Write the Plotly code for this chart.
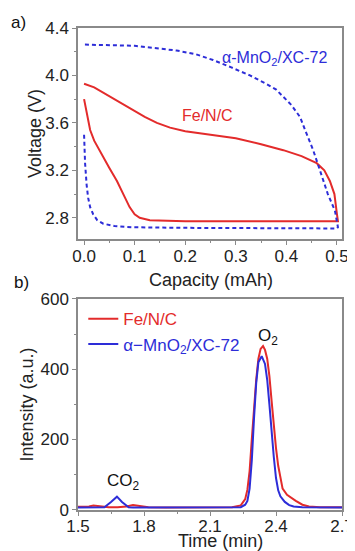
import plotly.graph_objects as go

# ---- Panel a: voltage vs capacity ----
fe_cap = [0.0, 0.005, 0.012, 0.02, 0.03, 0.05, 0.065, 0.08, 0.09, 0.10, 0.11, 0.13, 0.20, 0.30, 0.40, 0.50,
          0.502, 0.50, 0.495, 0.486, 0.475, 0.46, 0.43, 0.394, 0.35, 0.30, 0.25, 0.20, 0.17, 0.144, 0.12, 0.10, 0.08, 0.065, 0.04, 0.02, 0.0]
fe_volt = [3.80, 3.68, 3.54, 3.45, 3.37, 3.22, 3.11, 2.98, 2.89, 2.83, 2.80, 2.78, 2.77, 2.77, 2.77, 2.77,
           2.77, 2.83, 3.00, 3.11, 3.20, 3.26, 3.32, 3.37, 3.42, 3.47, 3.50, 3.53, 3.56, 3.60, 3.65, 3.70, 3.75, 3.79, 3.85, 3.90, 3.93]

mn_cap = [0.0, 0.002, 0.005, 0.008, 0.012, 0.018, 0.026, 0.038, 0.06, 0.097, 0.20, 0.30, 0.40, 0.50,
          0.502, 0.496, 0.482, 0.466, 0.453, 0.437, 0.427, 0.41, 0.38, 0.36, 0.328, 0.29, 0.255, 0.22, 0.183, 0.10, 0.0]
mn_volt = [3.50, 3.26, 3.08, 2.97, 2.89, 2.83, 2.78, 2.75, 2.73, 2.72, 2.715, 2.712, 2.71, 2.71,
           2.72, 2.86, 3.00, 3.20, 3.37, 3.54, 3.65, 3.75, 3.88, 3.93, 4.00, 4.07, 4.13, 4.18, 4.21, 4.25, 4.26]

# ---- Panel b: intensity vs time ----
fe_time = [1.50, 1.55, 1.57, 1.59, 1.61, 1.64, 1.68, 1.72, 1.75, 1.78, 1.82, 1.90, 2.00, 2.10, 2.20, 2.24,
           2.26, 2.27, 2.28, 2.29, 2.30, 2.31, 2.32, 2.33, 2.341, 2.35, 2.36, 2.37, 2.38, 2.39, 2.40, 2.41, 2.42,
           2.43, 2.45, 2.47, 2.49, 2.52, 2.55, 2.60, 2.70]
fe_int = [8, 9, 12, 11, 8, 7, 7, 9, 13, 10, 7, 6, 6, 6, 7, 12,
          30, 57, 110, 200, 290, 370, 430, 458, 466, 455, 430, 380, 310, 240, 175, 125, 88,
          60, 42, 33, 25, 14, 9, 7, 7]

mn_time = [1.50, 1.55, 1.60, 1.62, 1.65, 1.677, 1.70, 1.73, 1.75, 1.80, 1.90, 2.00, 2.10, 2.20, 2.24, 2.26,
           2.27, 2.28, 2.29, 2.30, 2.31, 2.32, 2.335, 2.35, 2.36, 2.37, 2.38, 2.39, 2.40, 2.41, 2.42, 2.44, 2.46,
           2.48, 2.52, 2.60, 2.70]
mn_int = [6, 6, 7, 7, 22, 37, 22, 7, 6, 6, 5, 5, 6, 6, 7, 14,
          25, 60, 140, 260, 360, 420, 437, 415, 370, 300, 220, 150, 90, 55, 38, 22, 13,
          9, 7, 6, 6]

RED = "#e32b2b"
BLUE = "#2d2dd8"
AXC = "#8a8a8a"
TXT = "#222"
FONT = "Liberation Sans, Arial, sans-serif"

fig = go.Figure()
fig.add_trace(go.Scatter(x=fe_cap, y=fe_volt, mode="lines", line=dict(color=RED, width=2),
                         showlegend=False, xaxis="x", yaxis="y"))
fig.add_trace(go.Scatter(x=mn_cap, y=mn_volt, mode="lines", line=dict(color=BLUE, width=2, dash="4px,3px"),
                         showlegend=False, xaxis="x", yaxis="y"))
fig.add_trace(go.Scatter(x=fe_time, y=fe_int, mode="lines", line=dict(color=RED, width=2),
                         name='<span style="color:%s">Fe/N/C</span>' % RED, xaxis="x2", yaxis="y2"))
fig.add_trace(go.Scatter(x=mn_time, y=mn_int, mode="lines", line=dict(color=BLUE, width=2),
                         name='<span style="color:%s">α−MnO<sub>2</sub>/XC-72</span>' % BLUE, xaxis="x2", yaxis="y2"))

axis_common = dict(showline=True, linecolor=AXC, linewidth=1.5, mirror=True, ticks="outside",
                   ticklen=4, tickcolor=AXC, tickwidth=1.2, showgrid=False, zeroline=False,
                   automargin=False,
                   tickfont=dict(size=17, color=TXT, family=FONT))

def title_ann(text, x, y, angle=0):
    return dict(text=text, xref="paper", yref="paper", x=x, y=y, xanchor="center", yanchor="middle",
                textangle=angle, showarrow=False, font=dict(size=18, color=TXT, family=FONT))

# page body has an 8px default margin, so the figure is 8px smaller than the window
fig.update_layout(
    width=347, height=543,
    margin=dict(l=70, r=13, t=20, b=41, autoexpand=False),
    paper_bgcolor="white", plot_bgcolor="white",
    font=dict(family=FONT, size=17, color=TXT),
    xaxis=dict(domain=[0, 1], anchor="y", range=[-0.012, 0.51], tickvals=[0, 0.1, 0.2, 0.3, 0.4, 0.5],
               ticktext=["0.0", "0.1", "0.2", "0.3", "0.4", "0.5"], ticklabelstandoff=-3,
               minor=dict(ticks="outside", ticklen=2.5, tickcolor=AXC, dtick=0.05, tick0=0),
               **axis_common),
    yaxis=dict(domain=[0.562, 1], anchor="x", range=[2.62, 4.4], tickvals=[2.8, 3.2, 3.6, 4.0, 4.4],
               ticktext=["2.8", "3.2", "3.6", "4.0", "4.4"],
               minor=dict(ticks="outside", ticklen=2.5, tickcolor=AXC, dtick=0.2, tick0=2.8),
               **axis_common),
    xaxis2=dict(domain=[0, 1], anchor="y2", range=[1.5, 2.7], tickvals=[1.5, 1.8, 2.1, 2.4, 2.7],
                ticklabelstandoff=-4,
                minor=dict(ticks="outside", ticklen=2.5, tickcolor=AXC, dtick=0.15, tick0=1.5),
                **axis_common),
    yaxis2=dict(domain=[0, 0.4378], anchor="x2", range=[-1, 600], tickvals=[0, 200, 400, 600],
                minor=dict(ticks="outside", ticklen=2.5, tickcolor=AXC, dtick=100, tick0=0),
                **axis_common),
    legend=dict(x=0.02, y=0.433, xanchor="left", yanchor="top", bgcolor="rgba(0,0,0,0)",
                font=dict(size=17, family=FONT), tracegroupgap=0, itemwidth=30),
    annotations=[
        title_ann("Capacity (mAh)", 0.504, 0.477),
        title_ann("Time (min)", 0.538, -0.064),
        title_ann("Voltage (V)", -0.165, 0.781, -90),
        title_ann("Intensity (a.u.)", -0.193, 0.219, -90),
        dict(text="a)", xref="paper", yref="paper", x=-0.26, y=1.0104, xanchor="left", yanchor="middle",
             showarrow=False, font=dict(size=17, color="#111")),
        dict(text="b)", xref="paper", yref="paper", x=-0.25, y=0.471, xanchor="left", yanchor="middle",
             showarrow=False, font=dict(size=17, color="#111")),
        dict(text="Fe/N/C", xref="x", yref="y", x=0.245, y=3.664, showarrow=False,
             font=dict(size=16, color=RED)),
        dict(text="α-MnO<sub>2</sub>/XC-72", xref="x", yref="y", x=0.377, y=4.146, showarrow=False,
             font=dict(size=16, color=BLUE)),
        dict(text="O<sub>2</sub>", xref="x2", yref="y2", x=2.364, y=491, showarrow=False,
             font=dict(size=17, color="#111")),
        dict(text="CO<sub>2</sub>", xref="x2", yref="y2", x=1.709, y=80, showarrow=False,
             font=dict(size=17, color="#111")),
    ],
)

fig.write_html("out.html")
